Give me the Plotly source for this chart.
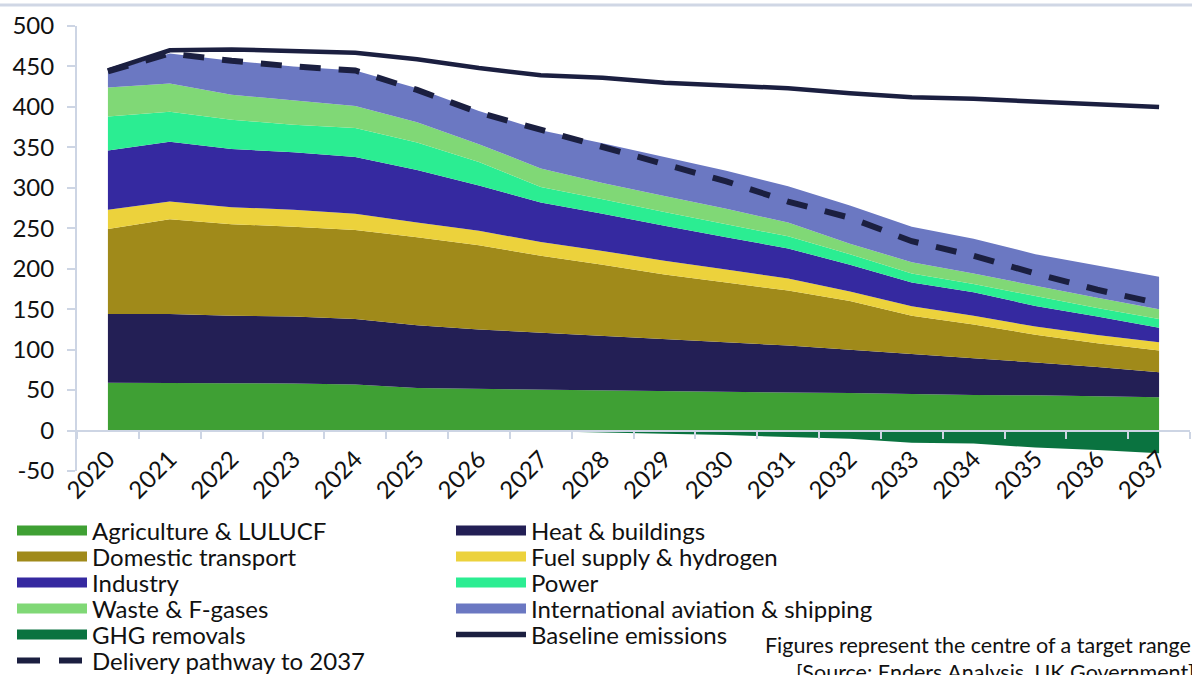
import plotly.graph_objects as go

years = ["2020", "2021", "2022", "2023", "2024", "2025", "2026", "2027", "2028",
         "2029", "2030", "2031", "2032", "2033", "2034", "2035", "2036", "2037"]

agriculture = [59, 59, 58.5, 58, 57, 52.5, 51.5, 50.5, 49.5, 49, 48, 47, 46.5, 45, 44, 43.5, 42, 41]
heat = [85, 85, 83.5, 83, 81, 77.5, 73.5, 70.5, 67.5, 64, 61, 58, 53.5, 50, 45.5, 40.5, 36.5, 31]
domestic = [105, 117, 113, 111, 110, 109, 104, 95, 88, 80, 74, 68, 60, 47, 41.5, 34.5, 29.5, 27]
fuel = [24, 22, 21, 21, 20, 18, 18, 17, 17, 17, 16, 15, 12, 11.5, 11, 10, 10, 10]
industry = [73, 74, 72, 71, 70, 65, 56, 49, 46, 43, 40, 37, 33, 29.5, 29, 25.5, 23, 18]
power = [42, 37, 36, 34, 36, 34, 29, 19, 18, 17, 16, 15, 13, 11, 10, 12, 10.5, 11]
waste = [36, 35, 31, 30, 27, 25, 22, 23, 20, 20, 19, 17, 13, 14, 13, 13, 12.5, 12]
intl = [20, 37, 42, 42, 44, 42, 41, 47, 49, 48, 47, 45, 47, 44, 43, 39, 40, 40]
ghg_removals = [0, 0, 0, 0, 0, 0, 0, -1, -2.5, -4, -5.5, -8, -10, -15, -16, -21, -24, -28]
baseline = [445, 470, 471, 469, 467, 459, 448, 439, 436, 430, 427, 423, 417, 412, 410, 407, 404, 400]
delivery = [444, 466, 457, 450, 445, 421, 393, 372, 350, 329, 308, 283, 263, 234, 216, 194, 174, 157]

y_tick_values = [-50, 0, 50, 100, 150, 200, 250, 300, 350, 400, 450, 500]
y_tick_labels = ["-50", "0", "50", "100", "150", "200", "250", "300", "350", "400", "450", "500"]

stack_names = ["Agriculture & LULUCF", "Heat & buildings", "Domestic transport",
               "Fuel supply & hydrogen", "Industry", "Power", "Waste & F-gases",
               "International aviation & shipping"]
stack_values = [agriculture, heat, domestic, fuel, industry, power, waste, intl]
stack_colors = ["#3fa034", "#231f55", "#a08a1a", "#ecd23c", "#3529a0", "#2bed92",
                "#80d876", "#6b78c2"]
ghg_color = "#0a7340"
line_color = "#1b1f40"
axis_color = "#cdd5e4"
text_color = "#111111"
FONT = "Lato"

# plot area geometry (pixels)
W, H = 1192, 675
ML, MR, MT, MB = 77, 2, 26, 204
PW, PH = W - ML - MR, H - MT - MB


def py(pix):  # pixel y -> paper y
    return (H - MB - pix) / PH


def px(pix):  # pixel x -> paper x
    return (pix - ML) / PW


fig = go.Figure()

for name, vals, col in zip(stack_names, stack_values, stack_colors):
    fig.add_trace(go.Scatter(x=years, y=vals, name=name, stackgroup="pos",
                             mode="lines", line=dict(width=0, color=col),
                             fillcolor=col, showlegend=False))

fig.add_trace(go.Scatter(x=years, y=ghg_removals, name="GHG removals", stackgroup="neg",
                         mode="lines", line=dict(width=0, color=ghg_color),
                         fillcolor=ghg_color, showlegend=False))

fig.add_trace(go.Scatter(x=years, y=baseline, name="Baseline emissions", mode="lines",
                         line=dict(color=line_color, width=4.5), showlegend=False))
fig.add_trace(go.Scatter(x=years, y=delivery, name="Delivery pathway to 2037", mode="lines",
                         line=dict(color=line_color, width=6, dash="21px,18px"),
                         showlegend=False))

# legend entries (one legend per row, two columns)
legend_rows = [
    [("Agriculture & LULUCF", stack_colors[0], 13, "solid"),
     ("Heat & buildings", stack_colors[1], 13, "solid")],
    [("Domestic transport", stack_colors[2], 13, "solid"),
     ("Fuel supply & hydrogen", stack_colors[3], 13, "solid")],
    [("Industry", stack_colors[4], 13, "solid"),
     ("Power", stack_colors[5], 13, "solid")],
    [("Waste & F-gases", stack_colors[6], 13, "solid"),
     ("International aviation & shipping", stack_colors[7], 13, "solid")],
    [("GHG removals", ghg_color, 13, "solid"),
     ("Baseline emissions", line_color, 5.5, "solid")],
    [("Delivery pathway to 2037", line_color, 6, "23px,19px")],
]
row_centers = [531, 557, 583, 609, 635, 661]

legend_layouts = {}
for i, (row, yc) in enumerate(zip(legend_rows, row_centers)):
    lid = "legend" if i == 0 else f"legend{i + 1}"
    for name, col, w, dash in row:
        fig.add_trace(go.Scatter(x=[None], y=[None], name=name, mode="lines",
                                 line=dict(color=col, width=w, dash=dash),
                                 legend=lid, showlegend=True, hoverinfo="skip"))
    legend_layouts[lid] = dict(
        orientation="h", x=px(12), xanchor="left", y=py(yc), yanchor="middle",
        entrywidth=354, entrywidthmode="pixels", itemwidth=70, traceorder="normal",
        font=dict(family=FONT, size=24, color=text_color),
        bgcolor="rgba(0,0,0,0)", borderwidth=0, tracegroupgap=0,
    )

fig.update_layout(
    width=W, height=H,
    margin=dict(l=ML, r=MR, t=MT, b=MB, pad=0, autoexpand=False),
    paper_bgcolor="white", plot_bgcolor="white",
    font=dict(family=FONT, size=24, color=text_color),
    showlegend=True,
    xaxis=dict(type="category", categoryorder="array", categoryarray=years,
               range=[-0.5, len(years) - 0.5], anchor="free",
               position=50 / 550, showline=True, linecolor=axis_color, linewidth=2,
               ticks="outside", tickson="boundaries", ticklen=7, tickwidth=2,
               tickcolor=axis_color, tickangle=-45, showgrid=False, zeroline=False,
               ticklabelstandoff=4,
               tickfont=dict(family=FONT, size=24, color=text_color)),
    yaxis=dict(range=[-50, 500], tickmode="array", tickvals=y_tick_values,
               ticktext=y_tick_labels, showline=True, linecolor=axis_color,
               linewidth=2, ticks="outside", ticklen=8, tickwidth=2, tickcolor=axis_color,
               showgrid=False, zeroline=False, ticklabelstandoff=8,
               tickfont=dict(family=FONT, size=24, color=text_color)),
    shapes=[dict(type="line", xref="paper", yref="paper", x0=px(0), x1=px(W),
                 y0=py(5), y1=py(5), line=dict(color="#d0d7e5", width=3))],
    annotations=[
        dict(text="Figures represent the centre of a target range", xref="paper",
             yref="paper", x=px(1193), y=py(645), xanchor="right", yanchor="middle",
             showarrow=False, font=dict(family=FONT, size=21.5, color=text_color)),
        dict(text="[Source: Enders Analysis, UK Government]", xref="paper",
             yref="paper", x=px(1197), y=py(672), xanchor="right", yanchor="middle",
             showarrow=False, font=dict(family=FONT, size=21.5, color=text_color)),
    ],
    **legend_layouts,
)

fig.write_html(
    "out.html",
    config={"displayModeBar": False},
    post_script="document.body.style.margin='0';document.body.style.overflow='hidden';",
)
